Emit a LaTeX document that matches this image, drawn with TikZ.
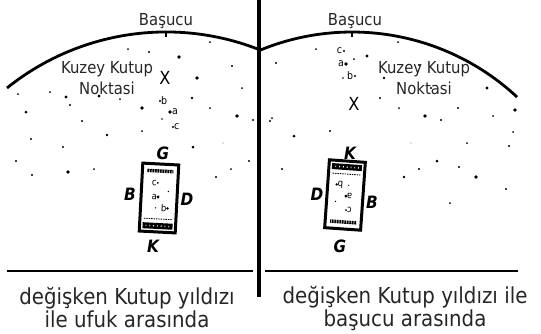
\documentclass[tikz,border=0pt]{standalone}
\usepackage{fontspec}
\setmainfont{DejaVu Sans}[FakeStretch=0.9]

\begin{document}
\begin{tikzpicture}[x=1pt,y=-1pt,
  yon/.style={font=\fontsize{17}{17}\selectfont\bfseries\itshape},
  etiket/.style={font=\fontsize{16.5}{21}\selectfont,align=center,text=black!85},
  harf/.style={font=\fontsize{9.5}{9.5}\selectfont,inner sep=.8pt},
  kart/.pic={
    \draw[line width=3pt](-18,-34)rectangle(18,34);
    \draw[line width=3.4pt,dash pattern=on 1.8pt off .7pt](-13,-27)--(13,-27);
    \draw[line width=.9pt,dash pattern=on 1.4pt off 1pt](-14,21)--(14,21);
    \fill(-15,25)rectangle(15,31);
    \draw[white,line width=1.4pt,dash pattern=on .8pt off 3pt](-12,28)--(13,28);
    \fill(-2,-15)circle(1pt);\node[harf,left,transform shape]at(-2,-15){c};
    \fill(-1,-1)circle(1.6pt);\node[harf,left,transform shape]at(-1,-1){a};
    \fill(9,10)circle(1.3pt);\node[harf,left,transform shape]at(9,10){b};
    \fill(9,-7)circle(.7pt);\fill(-3,10)circle(.7pt);
  }]
\useasboundingbox(0,0)rectangle(541,333);
% sky domes, divider and horizons
\draw[line width=2.8pt](7,88)arc[start angle=128.8,end angle=68.5,radius=254pt];
\draw[line width=2.8pt](259,50.6)arc[start angle=112.6,end angle=47,radius=242pt];
\draw[line width=1.4pt](166,32)--(166,37);\draw[line width=1.4pt](352,32)--(352,37);
\draw[line width=4pt](259,0)--(259,297);
\draw[line width=2.6pt](7,271)--(253,271);\draw[line width=2.6pt](265,271)--(518,271);
% left panel
\node[etiket](bas1)at(166,21){Başucu};
\node[etiket](kuzey1)at(107,78){Kuzey Kutup\\Noktasi};
\node[font=\fontsize{18}{18}\selectfont](x1)at(165,78){X};
\fill(128,49)circle(1pt);\fill(149,52)circle(1.1pt);\fill(179,57)circle(1.8pt);\fill(210,42)circle(1pt);
\fill(232,66)circle(1.1pt);\fill(197,78)circle(1.8pt);\fill(242,88)circle(1pt);\fill(18,94)circle(1pt);
\fill(50,92)circle(1pt);\fill(66,97)circle(1.6pt);\fill(70,105)circle(1.1pt);\fill(99,96)circle(1.6pt);
\fill(120,99)circle(1pt);\fill(192,98)circle(1.4pt);\fill(142,108)circle(1.8pt);\fill(210,108)circle(1pt);
\fill(26,112)circle(1.5pt);\fill(82,121)circle(1.1pt);\fill(162,119)circle(.8pt);\fill(237,116)circle(1.8pt);
\fill(253,120)circle(1.1pt);\fill(107,135)circle(1.4pt);\fill(142,131)circle(1pt);\fill(31,139)circle(1.2pt);
\fill(63,147)circle(1.1pt);\fill(16,161)circle(1.2pt);\fill(68,172)circle(1.8pt);\fill(94,169)circle(1pt);
\fill(32,175)circle(1.1pt);\fill(193,147)circle(1.5pt);\fill[gray!50](223,143)circle(.8pt);\fill(249,161)circle(1.2pt);
\fill(231,169)circle(1pt);\fill(216,177)circle(1.1pt);
\fill(160,101)circle(1.2pt);\node[harf,right,font=\fontsize{10.5}{10.5}\selectfont](b1)at(160,101){b};
\fill(170,112)circle(1.9pt);\node[harf,right,font=\fontsize{10.5}{10.5}\selectfont](a1)at(171,112){a};
\fill(173,127)circle(1.1pt);\node[harf,right,font=\fontsize{10.5}{10.5}\selectfont](c1)at(173,127){c};
\pic[rotate=-3]at(159,198){kart};
\node[yon](g1)at(163,153){G};\node[yon](b1y)at(130,194){B};
\node[yon](d1)at(187,199){D};\node[yon](k1)at(153,246){K};
\node[etiket,font=\fontsize{22}{23}\selectfont](alt1)at(127,308){değişken Kutup yıldızı\\ile ufuk arasında};
% right panel
\node[etiket](bas2)at(355,21){Başucu};
\node[etiket](kuzey2)at(424,78){Kuzey Kutup\\Noktasi};
\node[font=\fontsize{18}{18}\selectfont](x2)at(354,104){X};
\fill(316,49)circle(1pt);\fill(354,59)circle(1pt);\fill(367,56)circle(1.6pt);\fill(398,42)circle(1pt);
\fill(276,63)circle(1.1pt);\fill(419,65)circle(1.1pt);\fill(384,78)circle(1.4pt);\fill(431,88)circle(1.1pt);
\fill(487,88)circle(1.6pt);\fill(380,98)circle(1.2pt);\fill(399,108)circle(1pt);\fill(425,116)circle(1.8pt);
\fill(441,120)circle(1.2pt);\fill(458,108)circle(1.1pt);\fill(493,116)circle(1pt);\fill(515,110)circle(1.9pt);
\fill(272,118)circle(1pt);\fill(330,131)circle(1.1pt);\fill(294,136)circle(1.5pt);\fill(270,121)circle(1.1pt);
\fill(343,78)circle(.8pt);\fill(513,132)circle(1pt);\fill(509,146)circle(1.1pt);\fill(467,143)circle(1pt);
\fill[gray!50](411,143)circle(.8pt);\fill(437,161)circle(1.5pt);\fill(419,169)circle(1.1pt);\fill(459,167)circle(1.1pt);
\fill(404,177)circle(1.4pt);\fill(476,177)circle(1.8pt);\fill(506,189)circle(1.1pt);\fill(450,203)circle(1pt);
\fill(282,169)circle(1.2pt);
\fill(344,51)circle(1.1pt);\node[harf,left,font=\fontsize{10.5}{10.5}\selectfont](c2)at(343,51){c};
\fill(346,64)circle(1.9pt);\node[harf,left,font=\fontsize{10.5}{10.5}\selectfont](a2)at(345,64){a};
\fill(355,76)circle(1.2pt);\node[harf,left,font=\fontsize{10.5}{10.5}\selectfont](b2)at(354,76){b};
\pic[rotate=176]at(345,195){kart};
\node[yon](k2)at(350,153){K};\node[yon](d2)at(317,194){D};
\node[yon](b2y)at(372,202){B};\node[yon](g2)at(340,246){G};
\node[etiket,font=\fontsize{22}{23}\selectfont](alt2)at(405,308){değişken Kutup yıldızı ile\\başucu arasında};
\end{tikzpicture}
\end{document}
